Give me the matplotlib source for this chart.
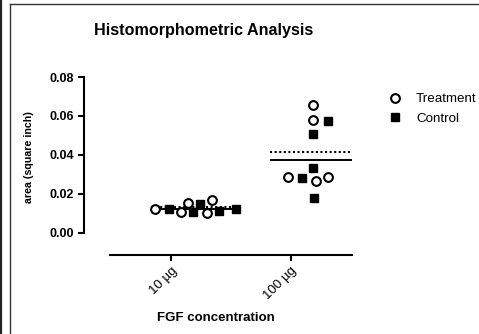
import numpy as np
import matplotlib
matplotlib.use("Agg")
import matplotlib.pyplot as plt
from matplotlib.lines import Line2D

plt.rcParams["font.family"] = ["Liberation Sans", "DejaVu Sans"]

# data
groups = ["10 \u00b5g", "100 \u00b5g"]
treat_10 = [0.0123, 0.0108, 0.0154, 0.0103, 0.0169]
ctrl_10 = [0.0123, 0.0108, 0.0149, 0.0113, 0.0123]
treat_100 = [0.0656, 0.0580, 0.0287, 0.0267, 0.0287]
ctrl_100 = [0.0574, 0.0508, 0.0333, 0.0282, 0.0179]

# horizontal scatter of the points (in category units)
treat_10_dx = [-0.133, 0.083, 0.142, 0.300, 0.342]
ctrl_10_dx = [-0.017, 0.183, 0.242, 0.400, 0.542]
treat_100_dx = [0.183, 0.183, -0.025, 0.208, 0.308]
ctrl_100_dx = [0.308, 0.183, 0.183, 0.092, 0.192]

fig = plt.figure(figsize=(4.79, 3.34), dpi=100)
ax = fig.add_axes([84 / 479, 1 - 255 / 334, 268 / 479, 178 / 334])

treat = [treat_10, treat_100]
ctrl = [ctrl_10, ctrl_100]
treat_dx = [treat_10_dx, treat_100_dx]
ctrl_dx = [ctrl_10_dx, ctrl_100_dx]

for i in range(len(groups)):
    # mean lines
    ax.plot([i - 0.17, i + 0.54], [np.mean(ctrl[i])] * 2, color="black", lw=1.4,
            solid_capstyle="butt", zorder=2)
    ax.plot([i - 0.17, i + 0.54], [np.mean(treat[i])] * 2, color="black", lw=1.5,
            linestyle=(0, (1, 1.2)), zorder=2)
    ax.plot(np.array(treat_dx[i]) + i, treat[i], "o", ms=6.3, mfc="white", mec="black",
            mew=1.5, clip_on=False, zorder=3)
    ax.plot(np.array(ctrl_dx[i]) + i, ctrl[i], "s", ms=5.2, color="black",
            clip_on=False, zorder=3)

ax.set_xlim(-0.725, 1.51)
ax.set_ylim(-0.0113, 0.08)
ax.spines["top"].set_visible(False)
ax.spines["right"].set_visible(False)
for s in ["left", "bottom"]:
    ax.spines[s].set_linewidth(1.5)
ax.spines["left"].set_bounds(0, 0.08)
ax.spines["bottom"].set_bounds(-0.51, 1.51)

ax.set_yticks([0, 0.02, 0.04, 0.06, 0.08])
ax.set_yticklabels(["0.00", "0.02", "0.04", "0.06", "0.08"], fontweight="bold", fontsize=9)
ax.set_xticks([0, 1])
ax.set_xticklabels(groups, rotation=45, ha="right", rotation_mode="anchor", fontsize=9.5)
ax.tick_params(axis="both", width=1.5, length=4, pad=3)

ax.set_ylabel("area (square inch)", fontweight="bold", fontsize=7.7)
ax.yaxis.set_label_coords(-0.185, 0.55)
fig.text(216 / 479, 1 - 318 / 334, "FGF concentration", fontweight="bold", fontsize=9.5,
         ha="center", va="center")
fig.text(204 / 479, 1 - 30 / 334, "Histomorphometric Analysis", fontweight="bold",
         fontsize=11.6, ha="center", va="center")

handles = [
    Line2D([], [], marker="o", ls="", ms=6.3, mfc="white", mec="black", mew=1.5),
    Line2D([], [], marker="s", ls="", ms=5.2, color="black"),
]
fig.legend(handles, ["Treatment", "Control"], loc="upper left",
           bbox_to_anchor=(382 / 479, 1 - 93 / 334), frameon=False, fontsize=9.6,
           handletextpad=0.55, labelspacing=0.55, borderaxespad=0, borderpad=0)

# page frame lines
fig.add_artist(Line2D([1 / 479, 1 / 479], [0, 1], color="#222222", lw=1.6))
fig.add_artist(Line2D([10 / 479, 10 / 479], [0, 1 - 4 / 334], color="#333333", lw=1.0))
fig.add_artist(Line2D([10 / 479, 1], [1 - 4 / 334, 1 - 4 / 334], color="#333333", lw=1.0))

fig.savefig("out.png", dpi=100)
